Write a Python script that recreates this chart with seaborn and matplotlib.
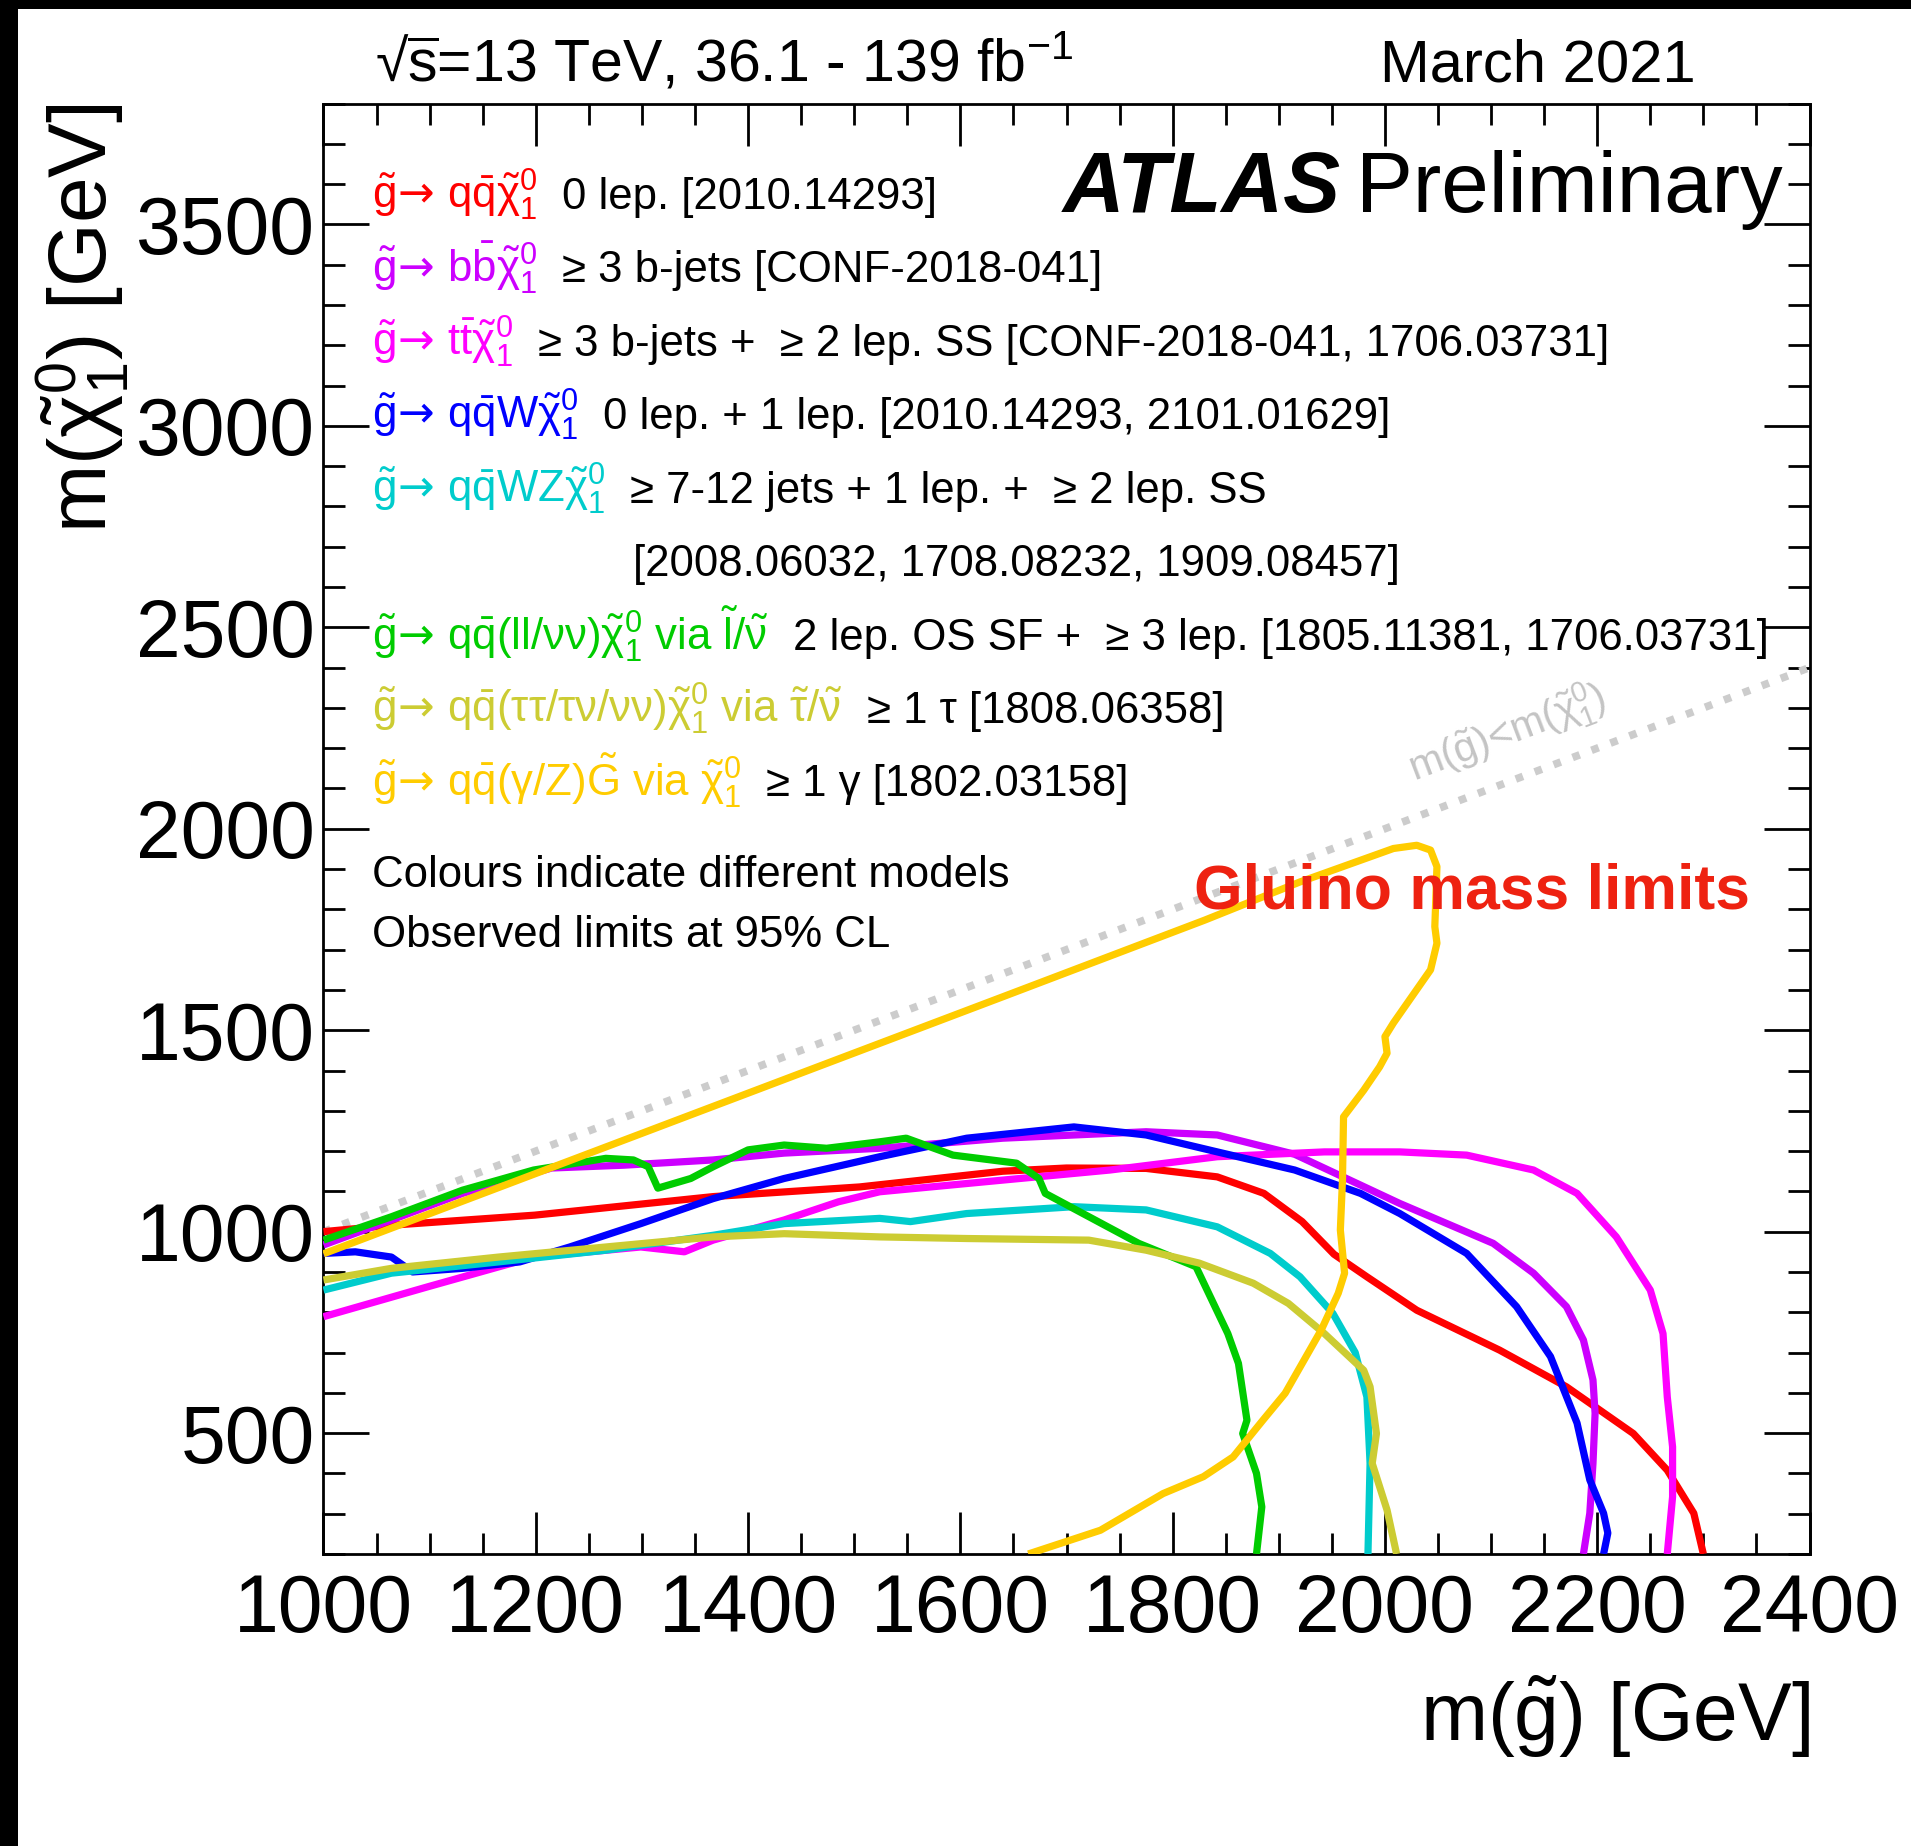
import numpy as np
import pandas as pd
import matplotlib
matplotlib.use("Agg")
import matplotlib.pyplot as plt
from matplotlib.patches import Rectangle
from matplotlib.ticker import MultipleLocator
import seaborn as sns

# Observed 95% CL exclusion contours: gluino mass vs. LSP mass [GeV]
red_x = [1000, 1064, 1199, 1367, 1505, 1640, 1700, 1775, 1842, 1886, 1922, 1952, 1983, 2030, 2108, 2171, 2234, 2266, 2291, 2300]
red_y = [1000, 1016, 1041, 1087, 1111, 1150, 1158, 1157, 1136, 1095, 1025, 944, 888, 805, 706, 615, 499, 408, 301, 200]

violet_x = [1000, 1064, 1131, 1215, 1283, 1367, 1434, 1524, 1640, 1775, 1842, 1915, 2014, 2102, 2140, 2171, 2187, 2196, 2198, 2196, 2193, 2187]
violet_y = [967, 1029, 1095, 1158, 1165, 1178, 1195, 1207, 1232, 1248, 1240, 1192, 1070, 971, 897, 814, 731, 632, 549, 425, 301, 200]

magenta_x = [1000, 1098, 1198, 1299, 1340, 1367, 1434, 1485, 1524, 1640, 1741, 1842, 1943, 2014, 2077, 2140, 2181, 2218, 2250, 2262, 2266, 2271, 2271, 2266]
magenta_y = [789, 863, 937, 962, 950, 979, 1029, 1074, 1099, 1128, 1153, 1186, 1198, 1198, 1190, 1153, 1095, 987, 855, 747, 590, 466, 342, 200]

blue_x = [1000, 1030, 1064, 1084, 1131, 1185, 1232, 1299, 1367, 1434, 1524, 1606, 1707, 1775, 1842, 1915, 1977, 2014, 2077, 2124, 2156, 2181, 2193, 2206, 2210, 2206]
blue_y = [946, 950, 937, 900, 909, 925, 962, 1020, 1082, 1132, 1186, 1232, 1260, 1240, 1198, 1153, 1095, 1045, 946, 814, 690, 525, 384, 301, 252, 200]

cyan_x = [1000, 1064, 1165, 1266, 1367, 1434, 1524, 1553, 1606, 1707, 1775, 1842, 1892, 1920, 1951, 1972, 1983, 1986, 1984]
cyan_y = [855, 897, 925, 954, 991, 1020, 1033, 1025, 1045, 1062, 1054, 1012, 946, 888, 797, 700, 590, 425, 200]

green_x = [1000, 1064, 1131, 1198, 1266, 1292, 1306, 1315, 1346, 1367, 1400, 1434, 1474, 1524, 1549, 1593, 1653, 1674, 1680, 1768, 1822, 1852, 1862, 1870, 1866, 1879, 1884, 1879]
green_y = [979, 1037, 1103, 1153, 1182, 1178, 1161, 1108, 1132, 1161, 1203, 1215, 1207, 1223, 1232, 1190, 1170, 1132, 1095, 971, 913, 747, 673, 532, 499, 400, 317, 200]

olive_x = [1000, 1064, 1165, 1266, 1367, 1434, 1524, 1606, 1721, 1775, 1825, 1876, 1909, 1943, 1980, 1986, 1992, 1988, 2002, 2011]
olive_y = [880, 909, 937, 962, 987, 995, 987, 983, 979, 954, 922, 872, 822, 747, 656, 615, 499, 425, 309, 200]

gold_x = [1000, 1640, 1830, 1920, 2008, 2030, 2043, 2049, 2047, 2049, 2043, 2008, 2000, 2002, 1995, 1980, 1961, 1960, 1958, 1962, 1956, 1940, 1906, 1885, 1857, 1829, 1791, 1732, 1664]
gold_y = [945, 1583, 1773, 1868, 1951, 1959, 1947, 1906, 1757, 1716, 1650, 1518, 1484, 1443, 1409, 1351, 1285, 1128, 1004, 897, 847, 756, 599, 532, 441, 392, 350, 259, 200]

# kinematic boundary m(gluino) = m(LSP)
diag_x = [1000, 2400]
diag_y = [1000, 2400]

models = ["qqN1", "bbN1", "ttN1", "qqWN1", "qqWZN1", "qqllN1", "qqtautauN1", "qqgammaZG"]
colors = ["#ff0000", "#cc00ff", "#ff00ff", "#0000ff", "#00cccc", "#00cc00", "#cccc33", "#ffcc00"]
curves_x = [red_x, violet_x, magenta_x, blue_x, cyan_x, green_x, olive_x, gold_x]
curves_y = [red_y, violet_y, magenta_y, blue_y, cyan_y, green_y, olive_y, gold_y]

ARROW = r"\tilde{g}\!\mathsf{\rightarrow}\,"
decay_labels = [
    r"$" + ARROW + r"q\bar{q}\tilde{\chi}_{1}^{0}$",
    r"$" + ARROW + r"b\bar{b}\tilde{\chi}_{1}^{0}$",
    r"$" + ARROW + r"t\bar{t}\tilde{\chi}_{1}^{0}$",
    r"$" + ARROW + r"q\bar{q}W\tilde{\chi}_{1}^{0}$",
    r"$" + ARROW + r"q\bar{q}WZ\tilde{\chi}_{1}^{0}$",
    r"$" + ARROW + r"q\bar{q}(ll/\nu\nu)\tilde{\chi}_{1}^{0}$ via $\tilde{l}/\tilde{\nu}$",
    r"$" + ARROW + r"q\bar{q}(\tau\tau/\tau\nu/\nu\nu)\tilde{\chi}_{1}^{0}$ via $\tilde{\tau}/\tilde{\nu}$",
    r"$" + ARROW + r"q\bar{q}(\gamma/Z)\tilde{G}$ via $\tilde{\chi}_{1}^{0}$",
]
analysis_labels = [
    "0 lep. [2010.14293]",
    "\u2265 3 b-jets [CONF-2018-041]",
    "\u2265 3 b-jets +  \u2265 2 lep. SS [CONF-2018-041, 1706.03731]",
    "0 lep. + 1 lep. [2010.14293, 2101.01629]",
    "\u2265 7-12 jets + 1 lep. +  \u2265 2 lep. SS",
    "2 lep. OS SF +  \u2265 3 lep. [1805.11381, 1706.03731]",
    "\u2265 1 \u03c4 [1808.06358]",
    "\u2265 1 \u03b3 [1802.03158]",
]
continuation_label = "[2008.06032, 1708.08232, 1909.08457]"
label_rows = [0, 1, 2, 3, 4, 6, 7, 8]

sns.set_theme(style="ticks")
plt.rcParams.update({
    "font.family": ["Liberation Sans", "DejaVu Sans"],
    "mathtext.fontset": "custom",
    "mathtext.rm": "Liberation Sans",
    "mathtext.it": "Liberation Sans",
    "mathtext.bf": "Liberation Sans:bold",
    "mathtext.sf": "DejaVu Sans",
    "mathtext.fallback": "stixsans",
    "axes.linewidth": 2.0,
    "axes.edgecolor": "black",
    "axes.labelcolor": "black",
    "text.color": "black",
    "xtick.color": "black",
    "ytick.color": "black",
})

fig = plt.figure(figsize=(19.11, 18.46), dpi=100)
fig.patch.set_facecolor("white")
ax = fig.add_axes([0.16928, 0.15818, 0.77761, 0.78575])
ax.set_facecolor("white")

# boundary line
diag = pd.DataFrame({"mgluino": diag_x, "mlsp": diag_y})
sns.lineplot(data=diag, x="mgluino", y="mlsp", color="#cccccc", ax=ax, zorder=2)
diag_line = ax.lines[-1]
diag_line.set_linewidth(5.5)
diag_line.set_linestyle((0, (1.0, 1.65)))
diag_line.set_dash_capstyle("butt")

# exclusion contours
frames = []
for name, xs, ys in zip(models, curves_x, curves_y):
    frames.append(pd.DataFrame({"mgluino": xs, "mlsp": ys, "model": name}))
df = pd.concat(frames, ignore_index=True)
sns.lineplot(data=df, x="mgluino", y="mlsp", hue="model", hue_order=models,
             palette=colors, sort=False, estimator=None,
             legend=False, ax=ax, zorder=3)
for ln in ax.lines[1:]:
    ln.set_linewidth(5.2)
    ln.set_solid_joinstyle("round")
    ln.set_solid_capstyle("butt")

ax.set_xlim(1000, 2400)
ax.set_ylim(200, 3800)
ax.xaxis.set_major_locator(MultipleLocator(200))
ax.xaxis.set_minor_locator(MultipleLocator(50))
ax.yaxis.set_major_locator(MultipleLocator(500))
ax.yaxis.set_minor_locator(MultipleLocator(100))
ax.tick_params(which="both", direction="in", top=True, right=True, width=2)
ax.tick_params(axis="x", which="major", length=30, labelsize=58, pad=14)
ax.tick_params(axis="x", which="minor", length=15)
ax.tick_params(axis="y", which="major", length=33, labelsize=58, pad=6)
ax.tick_params(axis="y", which="minor", length=16)
for s in ax.spines.values():
    s.set_visible(True)
    s.set_linewidth(2.0)
    s.set_color("black")

ax.set_xlabel(r"m($\tilde{g}$) [GeV]", fontsize=58, ha="right", va="top", color="black")
ax.xaxis.set_label_coords(1.0, -0.083)
ax.set_ylabel(r"m($\tilde{\chi}_{1}^{0}$) [GeV]", fontsize=59, ha="right", va="center", color="black")
ax.yaxis.set_label_coords(-0.162, 1.0)

# header
ax.text(0.0344, 1.0151, "\u221a$\\overline{\\mathrm{s}}$=13 TeV, 36.1 - 139 fb$^{-1}$",
        transform=ax.transAxes, fontsize=42.5, ha="left", va="baseline")
ax.text(0.7107, 1.0151, "March 2021", transform=ax.transAxes,
        fontsize=43, ha="left", va="baseline")

t_atlas = ax.text(0.4975, 0.9252, "ATLAS", transform=ax.transAxes, fontsize=61.5,
                  fontweight="bold", fontstyle="italic", ha="left", va="baseline")
ax.annotate("Preliminary", xy=(1, 0.9252), xycoords=(t_atlas, "axes fraction"),
            xytext=(11, 0), textcoords="offset points", fontsize=61.5,
            ha="left", va="baseline")

# model list
row_y0, row_dy, text_x = 0.9276, 0.05067, 0.0324
fs = 31.5
analysis_texts = {}
for row, dec, ana, col in zip(label_rows, decay_labels, analysis_labels, colors):
    y = row_y0 - row * row_dy
    ct = ax.text(text_x, y, dec, color=col, fontsize=fs, transform=ax.transAxes,
                 ha="left", va="baseline", zorder=5)
    bt = ax.annotate(ana, xy=(1, y), xycoords=(ct, "axes fraction"), xytext=(18, 0),
                     textcoords="offset points", fontsize=fs, ha="left", va="baseline", zorder=5)
    analysis_texts[row] = bt
y_cont = row_y0 - 5 * row_dy
ax.annotate(continuation_label, xy=(0, y_cont), xycoords=(analysis_texts[4], "axes fraction"),
            xytext=(2, 0), textcoords="offset points", fontsize=fs, ha="left", va="baseline")

ax.text(text_x, 0.4598, "Colours indicate different models", transform=ax.transAxes,
        fontsize=fs, ha="left", va="baseline")
ax.text(text_x, 0.4184, "Observed limits at 95% CL", transform=ax.transAxes,
        fontsize=fs, ha="left", va="baseline")

ax.text(0.5858, 0.4453, "Gluino mass limits", transform=ax.transAxes, color="#ee2211",
        fontsize=45, fontweight="bold", ha="left", va="baseline", zorder=6)

ax.text(2028, 2118, r"m($\tilde{g}$)<m($\tilde{\chi}_{1}^{0}$)", color="#c4c4c4", fontsize=29.5,
        rotation=45, transform_rotates_text=True, rotation_mode="anchor",
        ha="left", va="baseline", zorder=2)

# frame strips
fig.add_artist(Rectangle((0, 0), 17.5 / 1911, 1, transform=fig.transFigure,
                         facecolor="black", edgecolor="none", zorder=10))
fig.add_artist(Rectangle((0, 1 - 9 / 1846), 1, 9 / 1846, transform=fig.transFigure,
                         facecolor="black", edgecolor="none", zorder=10))

fig.savefig("out.png", dpi=100)
